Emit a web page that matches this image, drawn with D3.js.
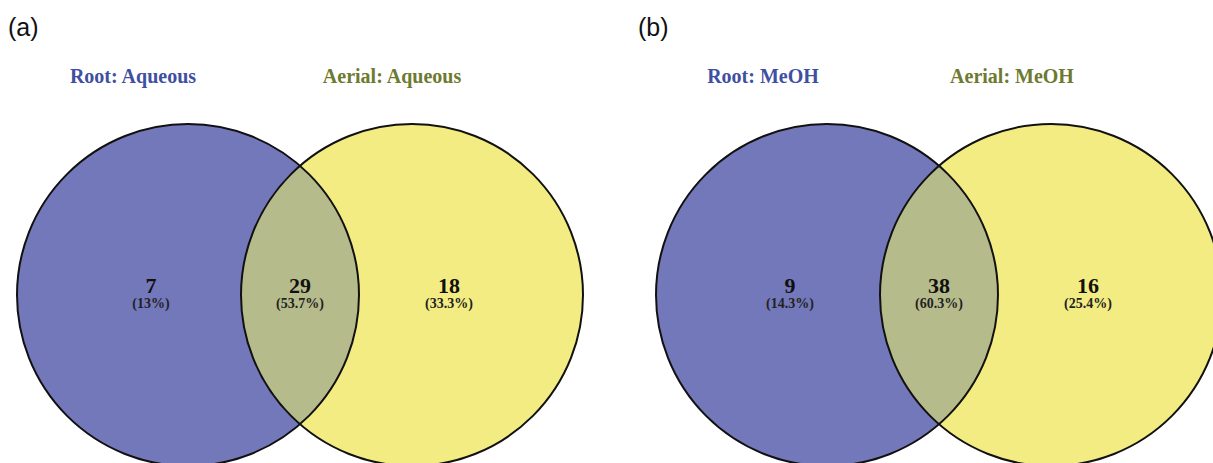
<!DOCTYPE html>
<html>
<head>
<meta charset="utf-8">
<script src="https://cdn.jsdelivr.net/npm/d3@7"></script>
<style>
  html, body { margin: 0; padding: 0; background: #fff; }
  svg { display: block; }
</style>
</head>
<body>
<div id="chart"></div>
<script>
// panel data
const panelTags = ["(a)", "(b)"];
const leftSets = ["Root: Aqueous", "Root: MeOH"];
const rightSets = ["Aerial: Aqueous", "Aerial: MeOH"];
const leftOnly = [7, 9];
const shared = [29, 38];
const rightOnly = [18, 16];
const leftPct = ["13%", "14.3%"];
const sharedPct = ["53.7%", "60.3%"];
const rightPct = ["33.3%", "25.4%"];

const width = 1213, height = 463;
const r = 171;
const sep = 224; // distance between circle centres
const cy = 295;

// layout per panel (left circle centre, tag and title positions)
const layout = [
    { cx: 188, tagX: 8, titleL: 133, titleR: 392 },
    { cx: 827, tagX: 638, titleL: 763, titleR: 1012 }
];

const panels = panelTags.map((tag, i) => ({
    tag,
    left: leftSets[i],
    right: rightSets[i],
    counts: [leftOnly[i], shared[i], rightOnly[i]],
    pcts: [leftPct[i], sharedPct[i], rightPct[i]],
    ...layout[i]
}));

const serif = "'Liberation Serif', 'Times New Roman', serif";

const svg = d3.select("#chart").append("svg")
    .attr("width", width)
    .attr("height", height);

const g = svg.selectAll(".panel")
    .data(panels)
    .enter().append("g")
    .attr("class", "panel");

// circles
g.append("circle")
    .attr("cx", d => d.cx)
    .attr("cy", cy)
    .attr("r", r)
    .attr("fill", "#7378bb");

g.append("circle")
    .attr("cx", d => d.cx + sep)
    .attr("cy", cy)
    .attr("r", r)
    .attr("fill", "#f3ec82");

// overlap lens
g.append("clipPath")
    .attr("id", (d, i) => "clip" + i)
    .append("circle")
    .attr("cx", d => d.cx)
    .attr("cy", cy)
    .attr("r", r);

g.append("circle")
    .attr("cx", d => d.cx + sep)
    .attr("cy", cy)
    .attr("r", r)
    .attr("clip-path", (d, i) => `url(#clip${i})`)
    .attr("fill", "#b6bb8b");

// outlines
[0, 1].forEach(k => {
    g.append("circle")
        .attr("cx", d => d.cx + k * sep)
        .attr("cy", cy)
        .attr("r", r)
        .attr("fill", "none")
        .attr("stroke", "#111")
        .attr("stroke-width", 2);
});

// region labels
const regionX = (d, k) => {
    if (k === 0) return d.cx - 37;
    if (k === 1) return d.cx + sep / 2;
    return d.cx + sep + 37;
};

[0, 1, 2].forEach(k => {
    g.append("text")
        .attr("x", d => regionX(d, k))
        .attr("y", 293)
        .attr("text-anchor", "middle")
        .style("font-family", serif)
        .style("font-weight", "bold")
        .style("font-size", "22px")
        .style("fill", "#111")
        .text(d => d.counts[k]);

    g.append("text")
        .attr("x", d => regionX(d, k))
        .attr("y", 308)
        .attr("text-anchor", "middle")
        .style("font-family", serif)
        .style("font-weight", "bold")
        .style("font-size", "14px")
        .style("fill", "#222")
        .text(d => `(${d.pcts[k]})`);
});

// set titles
g.append("text")
    .attr("x", d => d.titleL)
    .attr("y", 83)
    .attr("text-anchor", "middle")
    .style("font-family", serif)
    .style("font-weight", "bold")
    .style("font-size", "20px")
    .style("fill", "#3f4fa2")
    .text(d => d.left);

g.append("text")
    .attr("x", d => d.titleR)
    .attr("y", 83)
    .attr("text-anchor", "middle")
    .style("font-family", serif)
    .style("font-weight", "bold")
    .style("font-size", "20px")
    .style("fill", "#6d7a30")
    .text(d => d.right);

// panel tags
g.append("text")
    .attr("x", d => d.tagX)
    .attr("y", 36)
    .style("font-family", "'Liberation Sans', Arial, sans-serif")
    .style("font-size", "25px")
    .style("fill", "#111")
    .text(d => d.tag);
</script>
</body>
</html>
